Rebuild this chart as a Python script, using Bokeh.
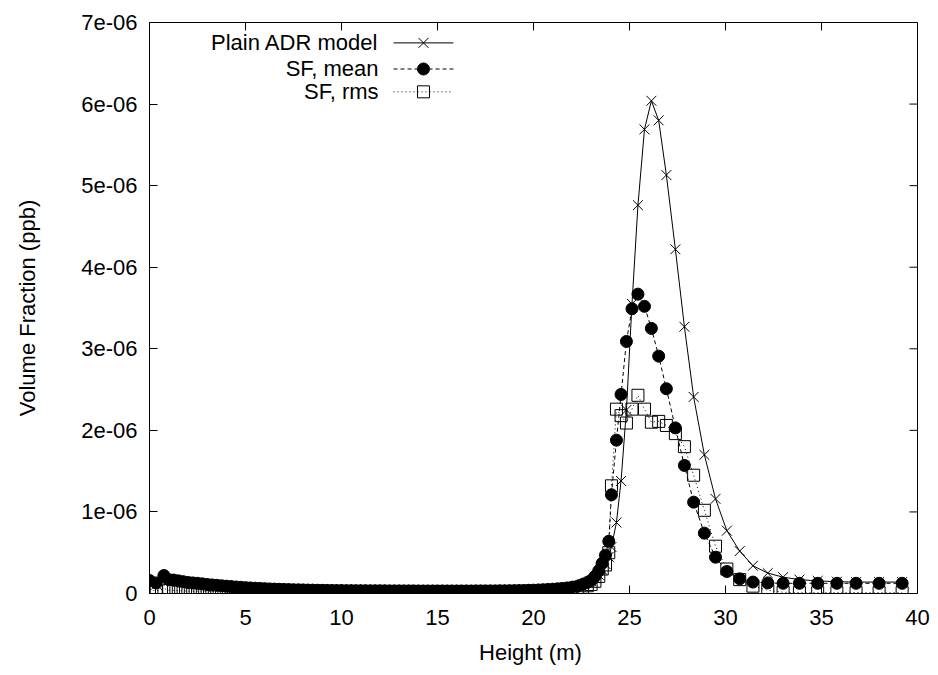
import math
from bokeh.plotting import figure
from bokeh.models import Range1d, FixedTicker, CustomJSTickFormatter
from bokeh.embed import file_html
from bokeh.resources import INLINE
from bokeh.core.properties import value

# ---------------- data (volume fraction in units of 1e-6 ppb) ----------------
SCALE = 1e-6
height_m = [0.0, 0.35, 0.75,
            1.0, 1.25, 1.5, 1.75, 2.0, 2.25, 2.5, 2.75, 3.0, 3.25, 3.5, 3.75,
            4.0, 4.25, 4.5, 4.75, 5.0, 5.25, 5.5, 5.75, 6.0, 6.25, 6.5, 6.75,
            7.0, 7.25, 7.5, 7.75, 8.0, 8.25, 8.5, 8.75, 9.0, 9.25, 9.5, 9.75,
            10.0, 10.25, 10.5, 10.75, 11.0, 11.25, 11.5, 11.75, 12.0, 12.25, 12.5, 12.75,
            13.0, 13.25, 13.5, 13.75, 14.0, 14.25, 14.5, 14.75, 15.0, 15.25, 15.5, 15.75,
            16.0, 16.25, 16.5, 16.75, 17.0, 17.25, 17.5, 17.75, 18.0, 18.25, 18.5, 18.75,
            19.0, 19.25, 19.5, 19.75, 20.0, 20.25, 20.5, 20.75, 21.0, 21.25, 21.5, 21.75,
            22.0,
            22.3, 22.55, 22.8, 23.0, 23.2, 23.4, 23.58,
            23.75, 23.92, 24.06, 24.32, 24.56, 24.84, 25.13, 25.44, 25.78, 26.14,
            26.52, 26.92, 27.39, 27.86, 28.34, 28.9, 29.48, 30.07, 30.74, 31.43,
            32.2, 33.0, 33.85, 34.8, 35.8, 36.8, 38.0, 39.2]

plain_adr = [0.12, 0.11, 0.16,
             0.155, 0.152, 0.145, 0.135, 0.125, 0.12, 0.115, 0.11, 0.105, 0.101, 0.097, 0.093,
             0.09, 0.087, 0.083, 0.08, 0.077, 0.075, 0.072, 0.07, 0.068, 0.066, 0.064, 0.062,
             0.061, 0.06, 0.058, 0.057, 0.056, 0.055, 0.054, 0.053, 0.052, 0.052, 0.051, 0.05,
             0.05, 0.05, 0.049, 0.049, 0.048, 0.048, 0.047, 0.047, 0.047, 0.047, 0.046, 0.046,
             0.046, 0.046, 0.045, 0.045, 0.045, 0.045, 0.045, 0.045, 0.045, 0.045, 0.045, 0.045,
             0.045, 0.045, 0.045, 0.045, 0.045, 0.045, 0.045, 0.045, 0.046, 0.046, 0.047, 0.047,
             0.048, 0.049, 0.05, 0.051, 0.053, 0.055, 0.058, 0.06, 0.063, 0.066, 0.07, 0.075,
             0.082,
             0.1, 0.115, 0.135, 0.155, 0.185, 0.23, 0.29,
             0.36, 0.45, 0.57, 0.87, 1.38, 2.25, 3.55, 4.76, 5.69, 6.04,
             5.8, 5.13, 4.22, 3.27, 2.41, 1.70, 1.16, 0.77, 0.52, 0.34,
             0.25, 0.2, 0.17, 0.155, 0.145, 0.14, 0.14, 0.14]

sf_mean = [0.16, 0.13, 0.22,
           0.17, 0.165, 0.155, 0.145, 0.135, 0.13, 0.125, 0.118, 0.11, 0.105, 0.1, 0.095,
           0.09, 0.085, 0.08, 0.076, 0.072, 0.068, 0.065, 0.062, 0.059, 0.056, 0.054, 0.052,
           0.05, 0.048, 0.046, 0.045, 0.044, 0.042, 0.041, 0.04, 0.039, 0.038, 0.037, 0.036,
           0.036, 0.035, 0.035, 0.034, 0.034, 0.034, 0.033, 0.033, 0.033, 0.033, 0.032, 0.032,
           0.032, 0.032, 0.032, 0.032, 0.031, 0.031, 0.031, 0.031, 0.031, 0.031, 0.031, 0.031,
           0.031, 0.031, 0.031, 0.031, 0.032, 0.032, 0.032, 0.032, 0.032, 0.033, 0.033, 0.034,
           0.035, 0.036, 0.037, 0.039, 0.041, 0.043, 0.046, 0.049, 0.053, 0.057, 0.062, 0.068,
           0.076,
           0.09, 0.11, 0.135, 0.16, 0.21, 0.28, 0.37,
           0.47, 0.64, 1.21, 1.88, 2.44, 3.09, 3.49, 3.67, 3.52, 3.25,
           2.91, 2.51, 2.03, 1.57, 1.12, 0.74, 0.445, 0.27, 0.18, 0.14,
           0.13, 0.125, 0.125, 0.125, 0.125, 0.125, 0.125, 0.125]

sf_rms = [0.05, 0.03, 0.06,
          0.04, 0.038, 0.035, 0.032, 0.03, 0.029, 0.028, 0.026, 0.025, 0.024, 0.023, 0.023,
          0.022, 0.022, 0.021, 0.021, 0.02, 0.02, 0.02, 0.02, 0.019, 0.019, 0.019, 0.019,
          0.019, 0.019, 0.019, 0.019, 0.018, 0.018, 0.018, 0.018, 0.018, 0.018, 0.018, 0.018,
          0.018, 0.018, 0.018, 0.018, 0.018, 0.018, 0.018, 0.018, 0.018, 0.018, 0.018, 0.018,
          0.018, 0.018, 0.018, 0.018, 0.018, 0.018, 0.018, 0.018, 0.018, 0.018, 0.018, 0.018,
          0.018, 0.018, 0.018, 0.018, 0.018, 0.018, 0.018, 0.018, 0.018, 0.019, 0.019, 0.019,
          0.02, 0.02, 0.021, 0.021, 0.022, 0.024, 0.025, 0.027, 0.03, 0.033, 0.037, 0.042,
          0.048,
          0.06, 0.075, 0.095, 0.11, 0.15, 0.21, 0.3,
          0.35, 0.5, 1.32, 2.26, 2.18, 2.09, 2.26, 2.43, 2.26, 2.1,
          2.11, 2.06, 1.96, 1.80, 1.45, 1.02, 0.58, 0.30, 0.17, 0.09,
          0.04, 0.015, 0.01, 0.01, 0.01, 0.01, 0.01, 0.01]

series_names = ["Plain ADR model", "SF, mean", "SF, rms"]
x_label = "Height  (m)"
y_label = "Volume Fraction (ppb)"
x_ticks = [0, 5, 10, 15, 20, 25, 30, 35, 40]
y_ticks = [0, 1, 2, 3, 4, 5, 6, 7]

n = len(height_m)
assert len(plain_adr) == n and len(sf_mean) == n and len(sf_rms) == n, (n, len(plain_adr), len(sf_mean), len(sf_rms))

# ---------------- figure ----------------
FONT = "Liberation Sans"
FS = "22px"

p = figure(width=930, height=675, output_backend="svg", toolbar_location=None,
           x_range=Range1d(0, 40), y_range=Range1d(0, 7 * SCALE),
           min_border_left=149, min_border_right=13, min_border_top=22,
           min_border_bottom=82, background_fill_color="white",
           border_fill_color="white", outline_line_color="black")
p.xgrid.grid_line_color = None
p.ygrid.grid_line_color = None

fmt = CustomJSTickFormatter(code="""
if (tick == 0) { return "0"; }
const s = tick.toExponential(0);
return s.replace(/e-(\\d)$/, (m, d) => "e-0" + d);
""")

def style_axis(ax):
    ax.major_tick_in = 8
    ax.major_tick_out = 0
    ax.minor_tick_line_color = None
    ax.axis_line_color = "black"
    ax.major_tick_line_color = "black"
    ax.major_label_text_font = FONT
    ax.major_label_text_font_size = FS
    ax.major_label_text_color = "black"
    ax.axis_label_text_font = FONT
    ax.axis_label_text_font_size = FS
    ax.axis_label_text_font_style = "normal"
    ax.axis_label_text_color = "black"

xa = p.xaxis[0]
ya = p.yaxis[0]
xa.ticker = FixedTicker(ticks=x_ticks)
ya.ticker = FixedTicker(ticks=[t * SCALE for t in y_ticks])
ya.formatter = fmt
style_axis(xa)
style_axis(ya)
xa.major_label_standoff = 16
ya.major_label_standoff = 12
xa.axis_label = x_label
ya.axis_label = y_label
xa.axis_label_standoff = 12
ya.axis_label_standoff = 38

# mirror ticks on top and right (inward, 8 px)
p.ray(x=x_ticks, y=[7 * SCALE] * len(x_ticks), length=8, length_units="screen",
      angle=-math.pi / 2, line_color="black", line_width=1)
p.ray(x=[40] * len(y_ticks), y=[t * SCALE for t in y_ticks], length=8, length_units="screen",
      angle=math.pi, line_color="black", line_width=1)

# ---------------- series ----------------
y_adr = [v * SCALE for v in plain_adr]
y_mean = [v * SCALE for v in sf_mean]
y_rms = [v * SCALE for v in sf_rms]

p.line(height_m, y_adr, line_color="black", line_width=1)
p.scatter(height_m, y_adr, marker="x", size=14, line_color="black", line_width=1)

p.line(height_m, y_mean, line_color="black", line_width=1, line_dash="4 3")
p.scatter(height_m, y_mean, marker="circle", size=12, fill_color="black", line_color="black")

p.line(height_m, y_rms, line_color="black", line_width=1, line_dash="1 3")
p.scatter(height_m, y_rms, marker="square", size=12, fill_color=None, line_color="black", line_width=1)

# ---------------- legend (gnuplot style: text right, sample on the right) ----------------
leg_text_x = 11.93
leg_x0, leg_xm, leg_x1 = 12.71, 14.27, 15.83
leg_rows = [6.75 * SCALE, 6.43 * SCALE, 6.15 * SCALE]
dashes = ["solid", "4 3", "1 3"]
markers = ["x", "circle", "square"]
fills = [None, "black", None]
sizes = [14, 12, 12]
p.text(x=[leg_text_x] * 3, y=leg_rows, text=series_names, text_align="right",
       text_baseline="middle", text_font=value(FONT), text_font_size=FS, text_color="black")
for i in range(3):
    p.line([leg_x0, leg_x1], [leg_rows[i], leg_rows[i]], line_color="black",
           line_width=1, line_dash=dashes[i])
    p.scatter([leg_xm], [leg_rows[i]], marker=markers[i], size=sizes[i],
              fill_color=fills[i], line_color="black", line_width=1)

open("out.html", "w").write(file_html(p, INLINE))
